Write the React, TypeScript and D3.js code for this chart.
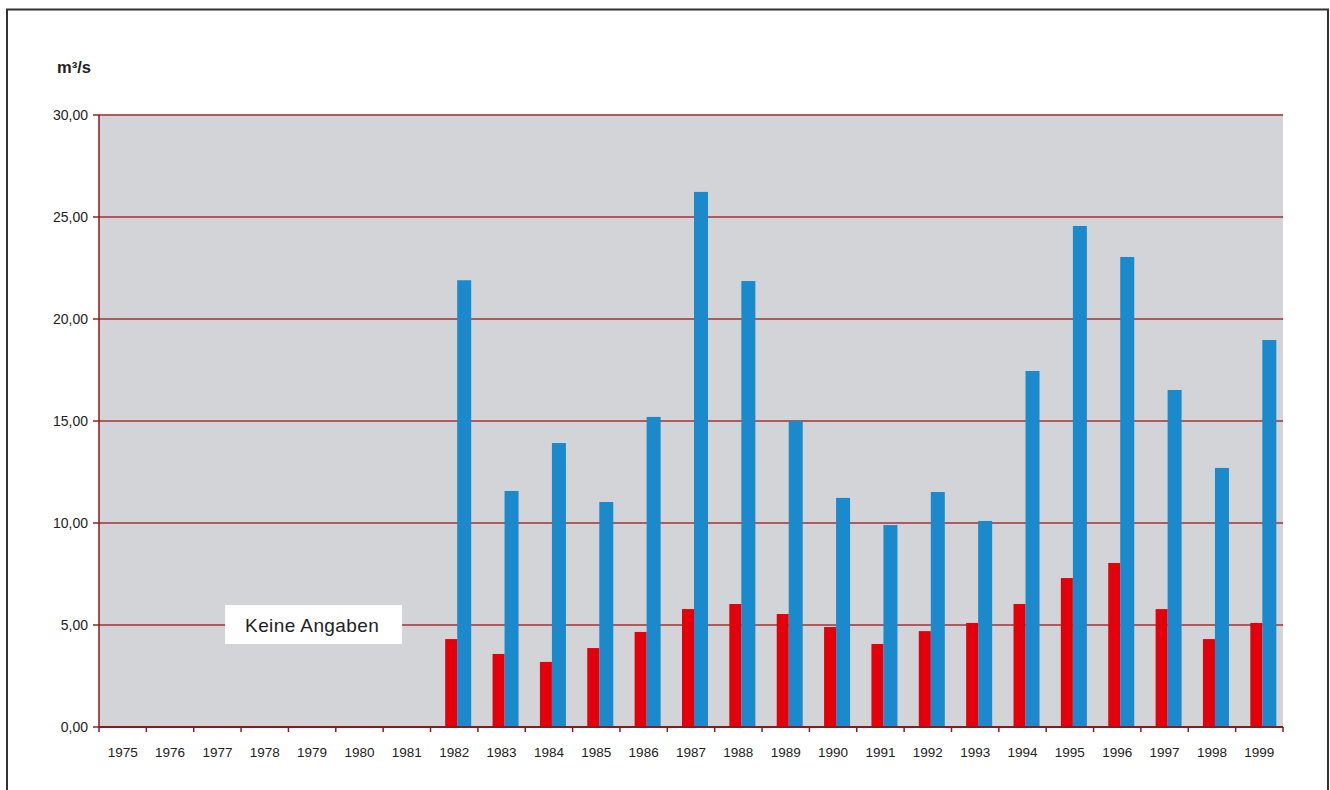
import React from 'react';
import * as d3 from 'd3';

const years = ['1975', '1976', '1977', '1978', '1979', '1980', '1981', '1982', '1983', '1984', '1985', '1986', '1987',
  '1988', '1989', '1990', '1991', '1992', '1993', '1994', '1995', '1996', '1997', '1998', '1999'];
// null = keine Angaben
const redValues: (number | null)[] = [null, null, null, null, null, null, null,
  4.31, 3.58, 3.19, 3.87, 4.66, 5.78, 6.03, 5.54, 4.9, 4.07, 4.7, 5.1, 6.03, 7.3, 8.04, 5.78, 4.31, 5.1];
const blueValues: (number | null)[] = [null, null, null, null, null, null, null,
  21.9, 11.57, 13.92, 11.03, 15.2, 26.23, 21.86, 15.0, 11.23, 9.9, 11.52, 10.1, 17.45, 24.56, 23.04, 16.52, 12.7, 18.97];
const yTicks = [0, 5, 10, 15, 20, 25, 30];

const W = 1330;
const H = 790;
const margin = { top: 115, right: 47, bottom: 63, left: 99 };
const innerW = W - margin.left - margin.right;
const innerH = H - margin.top - margin.bottom;

const App: React.FC = () => {
  const x = d3.scaleBand<string>().domain(years).range([0, innerW]).paddingInner(0).paddingOuter(0);
  const y = d3.scaleLinear().domain([0, 30]).range([innerH, 0]);
  const bw = x.bandwidth();
  const fmt = (v: number) => v.toFixed(2).replace('.', ',');
  const font = '"Liberation Sans", Arial, sans-serif';

  return (
    <svg width={W} height={H} style={{ position: 'absolute', left: 0, top: 0 }} fontFamily={font}>
      <rect x={0} y={0} width={W} height={H} fill="#fff" />
      <rect x={7} y={9.5} width={1321} height={H + 20} fill="none" stroke="#333" strokeWidth={2} />
      <text x={57} y={73} fontSize={16.5} fontWeight="bold" fill="#222">m³/s</text>
      <g transform={`translate(${margin.left},${margin.top})`}>
        <rect x={0} y={0} width={innerW} height={innerH} fill="#d3d4d8" />
        {yTicks.map(t => (
          <g key={t}>
            <line x1={-6} x2={innerW} y1={y(t)} y2={y(t)} stroke="#b05a5e" strokeWidth={t === 0 ? 2 : 1.8} />
            <text x={-11} y={y(t)} dy="0.35em" textAnchor="end" fontSize={14} fill="#222">{fmt(t)}</text>
          </g>
        ))}
        <line x1={0} x2={0} y1={0} y2={innerH} stroke="#8b1a1a" strokeWidth={1.5} />
        {years.map((yr, i) => {
          const x0 = x(yr) as number;
          const cx = x0 + bw / 2;
          const r = redValues[i];
          const b = blueValues[i];
          return (
            <g key={yr}>
              {r != null && (
                <rect x={cx - 9} y={y(r)} width={12} height={innerH - y(r)} fill="#e3000b" />
              )}
              {b != null && (
                <rect x={cx + 3} y={y(b)} width={14} height={innerH - y(b)} fill="#1b8acc" />
              )}
              <text x={cx} y={innerH + 30} textAnchor="middle" fontSize={13.5} fill="#222">{yr}</text>
            </g>
          );
        })}
        {years.map(yr => (
          <line key={'t' + yr} x1={x(yr) as number} x2={x(yr) as number} y1={innerH} y2={innerH + 5}
            stroke="#8b1a1a" strokeWidth={1.5} />
        ))}
        <line x1={innerW} x2={innerW} y1={innerH} y2={innerH + 5} stroke="#8b1a1a" strokeWidth={1.5} />
        <line x1={0} x2={innerW} y1={innerH} y2={innerH} stroke="#8b1a1a" strokeWidth={2} />
        <rect x={x('1978') as number - 16} y={y(5) - 20} width={177} height={39} fill="#fff" />
        <text x={x('1978') as number + 4} y={y(5) + 7} fontSize={19} letterSpacing={0.4} fill="#222">Keine Angaben</text>
      </g>
    </svg>
  );
};

export default App;
